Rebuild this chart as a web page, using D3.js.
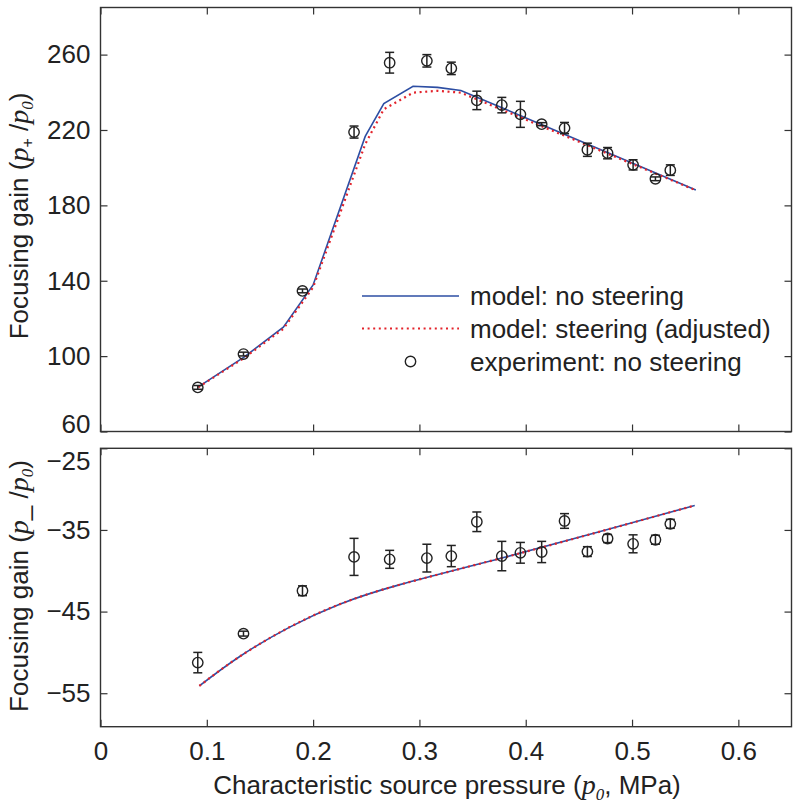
<!DOCTYPE html>
<html>
<head>
<meta charset="utf-8">
<script src="https://cdn.jsdelivr.net/npm/d3@7"></script>
<style>
  body { margin: 0; background: #fff; }
  svg { display: block; }
  .axis text { font-family: "Liberation Sans", Arial, sans-serif; font-size: 26px; fill: #222; }
  .axis line { stroke: #333; stroke-width: 1.2; }
  .lbl { font-family: "Liberation Sans", Arial, sans-serif; font-size: 26px; fill: #222; }
  .it { font-family: "Liberation Serif", "Times New Roman", serif; font-style: italic; }
</style>
</head>
<body>
<div id="chart"></div>
<script>
// experiment: characteristic source pressure (MPa)
var pressure = [0.0915, 0.1345, 0.190, 0.2385, 0.272, 0.307, 0.330, 0.354, 0.3775,
                0.395, 0.415, 0.4365, 0.458, 0.477, 0.501, 0.522, 0.536];
// peak positive gain p+/p0 and error
var gainPlus = [83.4, 101.1, 134.6, 218.9, 255.7, 256.7, 252.7, 235.7, 233.2,
                228.3, 223.1, 221.0, 209.5, 207.7, 201.5, 194.1, 198.7];
var errPlus  = [1.0, 1.0, 1.0, 3.2, 5.5, 3.3, 3.3, 4.9, 4.1,
                6.9, 0.8, 3.0, 3.5, 3.0, 2.7, 1.0, 2.8];
// peak negative gain p-/p0 and error
var gainMinus = [-51.25, -47.7, -42.45, -38.3, -38.6, -38.45, -38.2, -34.0, -38.2,
                 -37.8, -37.7, -33.9, -37.65, -36.05, -36.7, -36.2, -34.25];
var errMinus  = [1.25, 0.3, 0.6, 2.27, 1.1, 1.7, 1.3, 1.2, 1.8,
                 1.27, 1.3, 0.9, 0.6, 0.5, 1.1, 0.55, 0.55];

// model curves, top panel
var modelX      = [0.092, 0.135, 0.172, 0.200, 0.249, 0.2665, 0.294, 0.317, 0.339, 0.560];
var modelPlain  = [83.7, 99.5, 115.4, 137.8, 216.6, 234.0, 243.2, 242.6, 241.0, 188.2];
var modelSteer  = [83.5, 99.0, 114.5, 136.5, 212.5, 231.0, 239.8, 240.8, 239.8, 188.0];
// model curves, bottom panel (both models overlap)
var modelMinusX = [0.093, 0.131, 0.178, 0.225, 0.2817, 0.3757, 0.470, 0.559];
var modelMinus  = [-54.1, -50.5, -46.9, -44.1, -41.7, -38.5, -35.2, -32.0];

var xTicks = [0, 0.1, 0.2, 0.3, 0.4, 0.5, 0.6];
var topTicks = [60, 100, 140, 180, 220, 260];
var bottomTicks = [-55, -45, -35, -25];

var blue = "#2d4ea3", red = "#e3232b";
var W = 800, H = 812;
var left = 100.5, right = 791.5;

var svg = d3.select("#chart").append("svg").attr("width", W).attr("height", H);

var x = d3.scaleLinear().domain([0, 0.65]).range([left, right]);
var yTop = d3.scaleLinear().domain([60, 285]).range([431.5, 7.5]);
var yBot = d3.scaleLinear().domain([-59.1, -25]).range([726.7, 448.3]);

function fmtNum(d) { return d < 0 ? "\u2212" + Math.abs(d) : String(d); }

function panel(y, yticks, showX) {
  var g = svg.append("g");
  var r = y.range();
  var tk = 7;

  g.append("g").attr("class", "axis").attr("transform", "translate(0," + r[0] + ")")
    .call(d3.axisBottom(x).tickValues(xTicks).tickSizeInner(-tk).tickSizeOuter(0).tickPadding(15)
      .tickFormat(showX ? function(d) { return d; } : ""));
  g.append("g").attr("class", "axis").attr("transform", "translate(0," + r[1] + ")")
    .call(d3.axisTop(x).tickValues(xTicks).tickSizeInner(-tk).tickSizeOuter(0).tickFormat(""));
  g.append("g").attr("class", "axis y").attr("transform", "translate(" + left + ",0)")
    .call(d3.axisLeft(y).tickValues(yticks).tickSizeInner(-tk).tickSizeOuter(0).tickPadding(10)
      .tickFormat(fmtNum));
  g.append("g").attr("class", "axis").attr("transform", "translate(" + right + ",0)")
    .call(d3.axisRight(y).tickValues(yticks).tickSizeInner(-tk).tickSizeOuter(0).tickFormat(""));
  g.selectAll(".domain").remove();
  g.selectAll(".axis text").attr("fill", "#222");

  g.append("rect").attr("x", left).attr("y", r[1]).attr("width", right - left).attr("height", r[0] - r[1])
    .attr("fill", "none").attr("stroke", "#333").attr("stroke-width", 1.4);
  return g;
}

function errorBars(g, y, vals, errs) {
  var data = pressure.map(function(p, i) { return {p: p, v: vals[i], e: errs[i]}; });
  var eb = g.append("g").attr("stroke", "#222").attr("stroke-width", 1.5).attr("fill", "none");
  var cap = 4.5;
  data.forEach(function(d) {
    var cx = x(d.p), y0 = y(d.v - d.e), y1 = y(d.v + d.e);
    eb.append("line").attr("x1", cx).attr("x2", cx).attr("y1", y0).attr("y2", y1);
    eb.append("line").attr("x1", cx - cap).attr("x2", cx + cap).attr("y1", y0).attr("y2", y0);
    eb.append("line").attr("x1", cx - cap).attr("x2", cx + cap).attr("y1", y1).attr("y2", y1);
  });
  g.append("g").selectAll("circle").data(data).enter().append("circle")
    .attr("cx", function(d) { return x(d.p); })
    .attr("cy", function(d) { return y(d.v); })
    .attr("r", 5.2)
    .attr("fill", "none").attr("stroke", "#222").attr("stroke-width", 1.4);
}

function modelLine(g, y, xs, ys, color, dotted, curve) {
  var line = d3.line().x(function(d) { return x(d[0]); }).y(function(d) { return y(d[1]); })
    .curve(curve || d3.curveLinear);
  var p = g.append("path").datum(xs.map(function(v, i) { return [v, ys[i]]; }))
    .attr("d", line).attr("fill", "none").attr("stroke", color);
  if (dotted) p.attr("stroke-width", 2.2).attr("stroke-dasharray", "2,3.6");
  else p.attr("stroke-width", 1.6);
}

// top panel
var gTop = panel(yTop, topTicks, false);
modelLine(gTop, yTop, modelX, modelPlain, blue, false);
modelLine(gTop, yTop, modelX, modelSteer, red, true);
errorBars(gTop, yTop, gainPlus, errPlus);
gTop.selectAll(".axis.y text").filter(function(d) { return d === 60; }).attr("y", -7);

// bottom panel
var gBot = panel(yBot, bottomTicks, true);
modelLine(gBot, yBot, modelMinusX, modelMinus, blue, false, d3.curveNatural);
modelLine(gBot, yBot, modelMinusX, modelMinus, red, true, d3.curveNatural);
errorBars(gBot, yBot, gainMinus, errMinus);
gBot.selectAll(".axis.y text").filter(function(d) { return d === -25; }).attr("y", 13);

// legend
var leg = svg.append("g");
var legItems = ["model: no steering", "model: steering (adjusted)", "experiment: no steering"];
var legY = [296, 328.5, 361.5];
leg.append("line").attr("x1", 362).attr("x2", 459).attr("y1", legY[0]).attr("y2", legY[0])
  .attr("stroke", blue).attr("stroke-width", 1.6);
leg.append("line").attr("x1", 362).attr("x2", 459).attr("y1", legY[1]).attr("y2", legY[1])
  .attr("stroke", red).attr("stroke-width", 2.2).attr("stroke-dasharray", "2,3.6");
leg.append("circle").attr("cx", 410.5).attr("cy", legY[2]).attr("r", 5.2)
  .attr("fill", "none").attr("stroke", "#222").attr("stroke-width", 1.4);
leg.selectAll("text").data(legItems).enter().append("text").attr("class", "lbl")
  .attr("x", 470).attr("y", function(d, i) { return legY[i]; }).attr("dy", "0.36em")
  .text(function(d) { return d; });

// axis labels
function yLabel(cx, cy, sub) {
  var t = svg.append("text").attr("class", "lbl").attr("text-anchor", "middle")
    .attr("transform", "translate(" + cx + "," + cy + ") rotate(-90)");
  t.append("tspan").text("Focusing gain (");
  t.append("tspan").attr("class", "it").attr("font-size", 28).text("p");
  if (sub === "+") t.append("tspan").attr("font-size", 16).attr("dy", 5).text("+");
  else t.append("tspan").attr("dy", 0).text("_");
  t.append("tspan").attr("dy", sub === "+" ? -5 : 0).text(" /");
  t.append("tspan").attr("class", "it").attr("font-size", 28).text("p");
  t.append("tspan").attr("class", "it").attr("font-size", 17).attr("dy", 5).text("0");
  t.append("tspan").attr("dy", -5).text(")");
}
yLabel(28, 216, "+");
yLabel(28, 586, "-");

var xl = svg.append("text").attr("class", "lbl").attr("text-anchor", "middle")
  .attr("x", 447).attr("y", 794);
xl.append("tspan").text("Characteristic source pressure (");
xl.append("tspan").attr("class", "it").attr("font-size", 28).text("p");
xl.append("tspan").attr("class", "it").attr("font-size", 17).attr("dy", 6).text("0");
xl.append("tspan").attr("dy", -6).text(", MPa)");
</script>
</body>
</html>
